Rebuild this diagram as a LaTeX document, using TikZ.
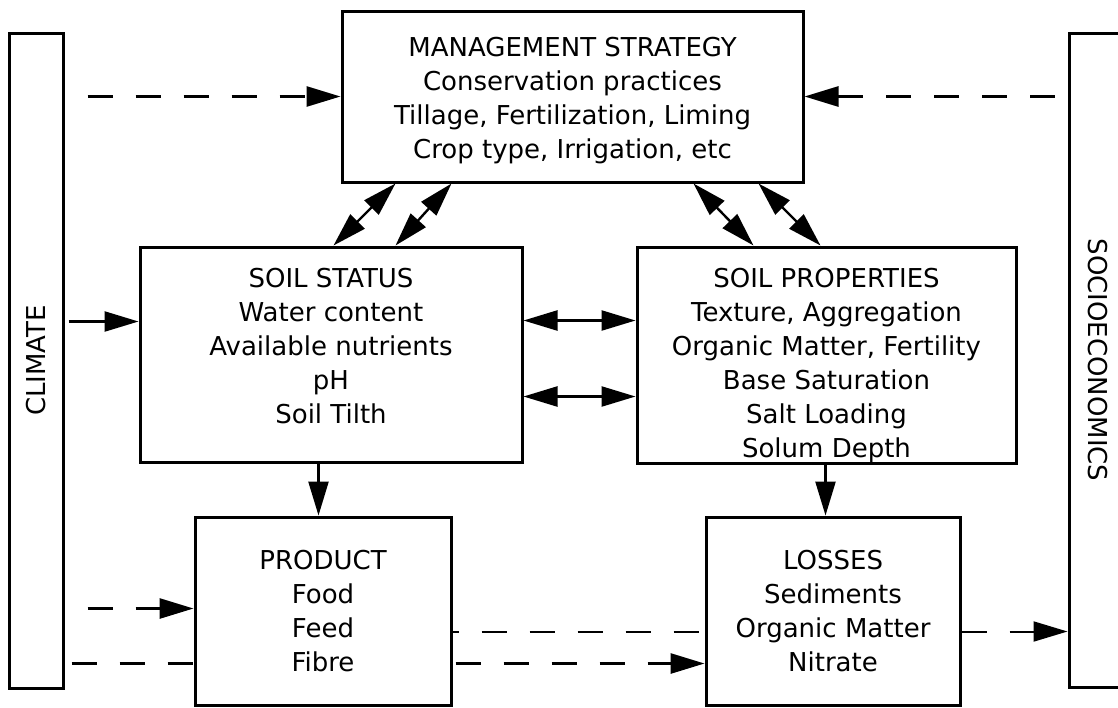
\documentclass[tikz,border=0pt]{standalone}
\usepackage{fontspec}
\setmainfont{DejaVu Sans}
\usetikzlibrary{arrows.meta,calc,backgrounds}
\begin{document}
\begin{tikzpicture}[x=0.5pt,y=-0.5pt,
  box/.style={draw, line width=1.5pt, fill=white, inner sep=0pt, align=center,
    font=\fontsize{13}{17}\selectfont},
  txt/.style={inner sep=0pt, align=center, font=\fontsize{13}{17}\selectfont},
  conn/.style={line width=1.2pt},
  dsh/.style={line width=1.4pt, dash pattern=on 12.5pt off 11.5pt},
  >={Triangle[length=17pt,width=10pt]}]
\useasboundingbox (0,0) rectangle (1118,707);

\node[box, minimum width=27pt, minimum height=327.5pt] (climate) at (36,360.5) {\rotatebox{90}{CLIMATE}};
\node[box, minimum width=29pt, minimum height=327pt] (socio) at (1098,360) {\rotatebox{-90}{SOCIOECONOMICS}};

\node[box, minimum width=230.5pt, minimum height=85.5pt] (mgmt) at (572.5,96.5) {};
\node[txt, anchor=north] (mgmttext) at ($(mgmt.north)+(0,27)$)
  {MANAGEMENT STRATEGY\\Conservation practices\\Tillage, Fertilization, Liming\\Crop type, Irrigation, etc};

\node[box, minimum width=191pt, minimum height=107.5pt] (status) at (331,354.5) {};
\node[txt, anchor=north] (statustext) at ($(status.north)+(0,22)$)
  {SOIL STATUS\\Water content\\Available nutrients\\pH\\Soil Tilth};

\node[box, minimum width=189.5pt, minimum height=108pt] (props) at (826.5,355) {};
\node[txt, anchor=north] (propstext) at ($(props.north)+(0,22)$)
  {SOIL PROPERTIES\\Texture, Aggregation\\Organic Matter, Fertility\\Base Saturation\\Salt Loading\\Solum Depth};

\node[box, minimum width=128pt, minimum height=94pt] (product) at (323,611)
  {PRODUCT\\Food\\Feed\\Fibre};
\node[box, minimum width=127pt, minimum height=94pt] (losses) at (833,611)
  {LOSSES\\Sediments\\Organic Matter\\Nitrate};

% management <-> soil boxes
\draw[conn,<->] ($(mgmt.south west)+(55,0)$) -- ($(status.north west)+(195,0)$);
\draw[conn,<->] ($(mgmt.south west)+(111,0)$) -- ($(status.north west)+(257,0)$);
\draw[conn,<->] ($(mgmt.south west)+(353,0)$) -- ($(props.north west)+(118,0)$);
\draw[conn,<->] ($(mgmt.south west)+(418,0)$) -- ($(props.north west)+(185,0)$);

% status <-> properties
\draw[conn,<->] ($(status.north east)+(0,75)$) -- ($(props.north west)+(0,75)$);
\draw[conn,<->] ($(status.north east)+(0,151)$) -- ($(props.north west)+(0,151)$);

% climate -> status
\draw[conn,->] ($(climate.north east)+(4,290)$) -- ($(status.north west)+(0,76)$);

% downward arrows
\draw[conn,->] ($(status.south west)+(180,0)$) -- ($(product.north west)+(125,0)$);
\draw[conn,->] ($(props.south west)+(190,0)$) -- ($(losses.north west)+(121,0)$);

% dashed connectors
\begin{scope}[on background layer]
\draw[dsh, dash phase=12.5pt, ->] ($(climate.north east)+(0,65)$) -- ($(mgmt.north west)+(0,87)$);
\draw[dsh, dash phase=17.5pt, ->] ($(socio.north west)+(0,65)$) -- ($(mgmt.north east)+(0,87)$);
\draw[dsh, dash phase=12.5pt, ->] ($(climate.north east)+(0,577)$) -- ($(product.north west)+(0,93)$);
\draw[dsh, dash phase=20.5pt, ->] ($(climate.north east)+(0,632)$) -- ($(losses.north west)+(0,148)$);
\draw[dsh, line width=1pt, dash phase=9.5pt, ->] ($(product.north east)+(0,116)$) -- ($(socio.north west)+(0,600)$);
\end{scope}
\end{tikzpicture}
\end{document}
